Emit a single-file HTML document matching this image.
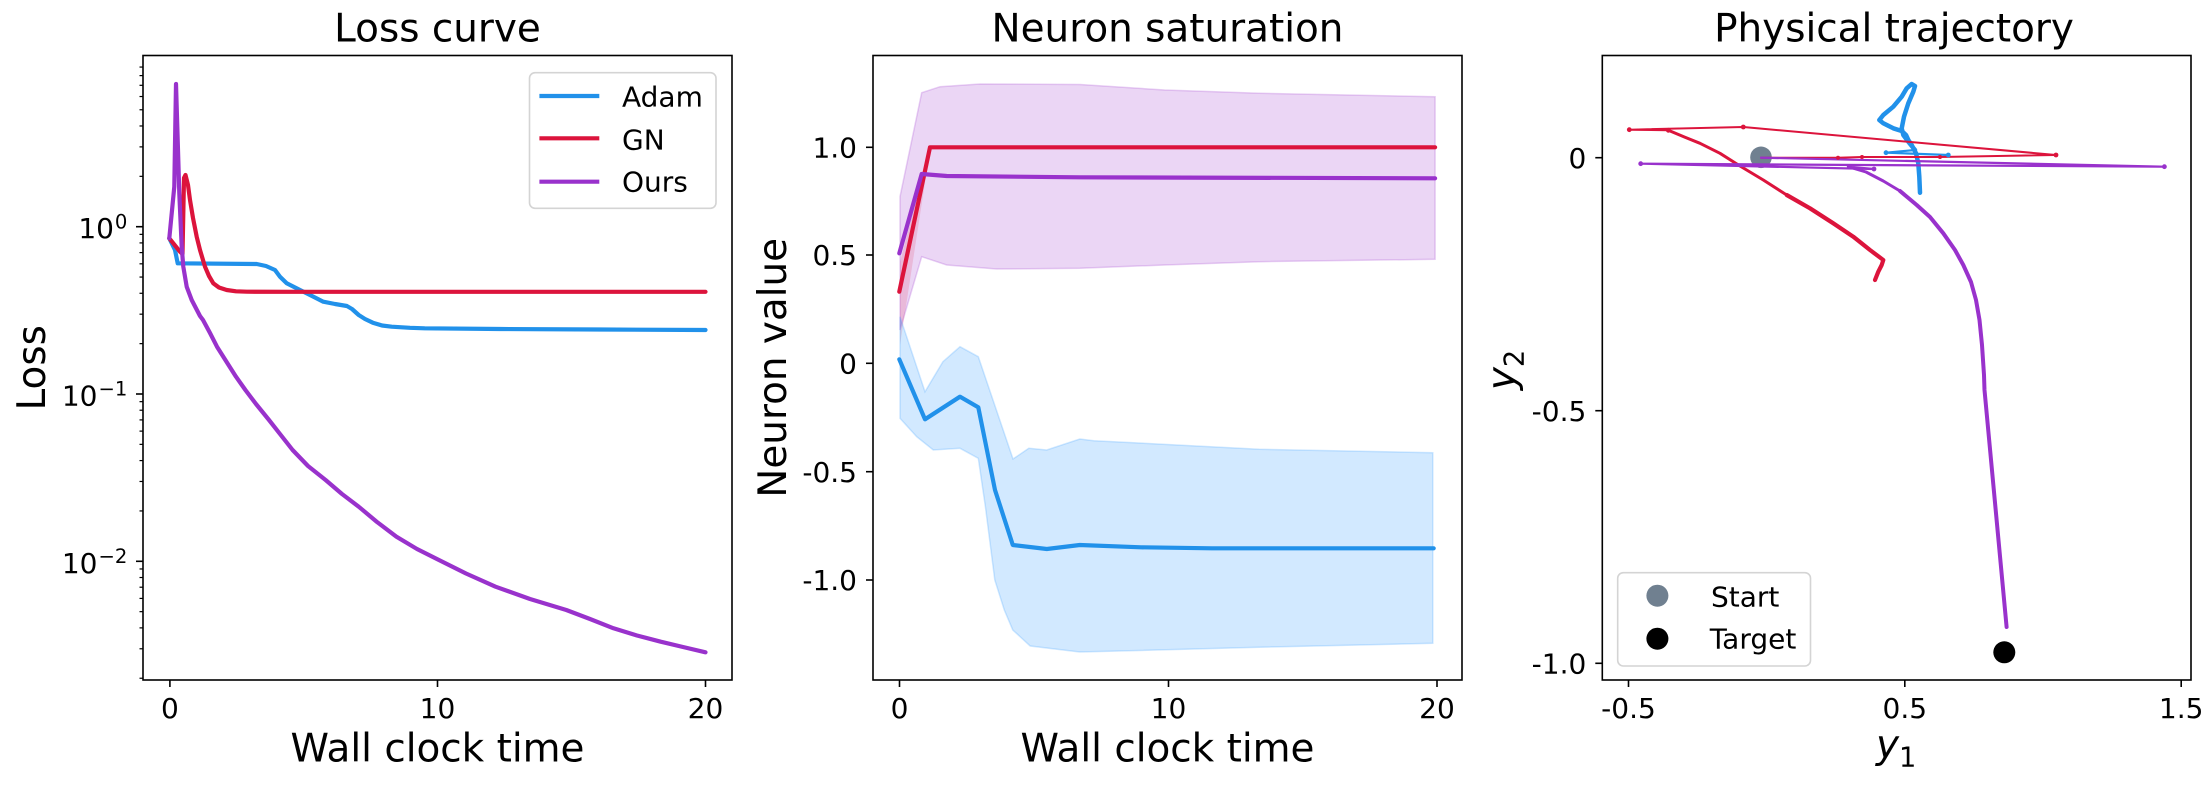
<!DOCTYPE html>
<html><head><meta charset="utf-8">
<style>
html,body{margin:0;padding:0;background:#fff;}
svg{display:block;}
text{font-family:"DejaVu Sans","Liberation Sans",sans-serif;fill:#000;}
</style></head>
<body>
<svg width="2212" height="786" viewBox="0 0 2212 786" xmlns="http://www.w3.org/2000/svg">
<rect width="2212" height="786" fill="#fff"/>

<!-- ================= LEFT PANEL ================= -->
<text x="437.5" y="41.7" font-size="38.9" text-anchor="middle">Loss curve</text>
<g fill="none" stroke-linejoin="round" stroke-linecap="round" stroke-width="4.2">
  <path stroke="#2191EA" d="M169.3,238.3 L175,250 L177.7,263.3 L256.7,264 L266,266 L275,270 L280,276.7 L286.7,283.3 L300,290 L312,296 L323.3,301.7 L335,304 L346.9,306 L352,309 L358.7,315 L365,319 L372.8,322.7 L382,325.5 L391.7,326.7 L410,327.8 L424.7,328.3 L500,329 L600,329.5 L705.5,330"/>
  <path stroke="#DC143C" d="M169.3,238.3 L180,251.7 L182.5,254 L184,178 L185.5,175 L188,185 L190,200 L193,218 L196.7,236.7 L200,250 L205,266.7 L209,276 L213.3,283.3 L219,287.5 L226.7,290 L236,291.3 L246.7,291.7 L300,291.8 L705.5,291.8"/>
  <path stroke="#9932CC" d="M169.3,238.3 L174.3,186.7 L176,84 L179.3,193.3 L181.7,246.7 L183.3,266.7 L186.7,286.7 L191.7,300 L200,316 L203,320 L210,333 L217,346.7 L226,361 L236,376.7 L245.4,390 L256,404 L269,420 L280,434 L292.6,450 L308,466 L325.6,480 L342,494 L358.7,506.7 L377,522 L396.4,536.7 L417,549 L438.9,560 L466,573.5 L495.5,586.7 L530,599 L566.3,610 L590,619 L613.5,628.3 L637,635.5 L660.7,641.7 L683,647 L705.5,652.3"/>
</g>
<rect x="143" y="55.5" width="589" height="624.5" fill="none" stroke="#000" stroke-width="1.6"/>
<!-- x ticks -->
<g stroke="#000" stroke-width="1.6">
  <line x1="169.9" y1="680" x2="169.9" y2="687"/>
  <line x1="437.5" y1="680" x2="437.5" y2="687"/>
  <line x1="705.5" y1="680" x2="705.5" y2="687"/>
  <!-- y major -->
  <line x1="136" y1="226.7" x2="143" y2="226.7"/>
  <line x1="136" y1="394" x2="143" y2="394"/>
  <line x1="136" y1="561.3" x2="143" y2="561.3"/>
</g>
<g stroke="#000" stroke-width="1.2">
  <line x1="139.5" x2="143" y1="176.34" y2="176.34"/><line x1="139.5" x2="143" y1="146.88" y2="146.88"/><line x1="139.5" x2="143" y1="125.98" y2="125.98"/><line x1="139.5" x2="143" y1="109.76" y2="109.76"/><line x1="139.5" x2="143" y1="96.52" y2="96.52"/><line x1="139.5" x2="143" y1="85.31" y2="85.31"/><line x1="139.5" x2="143" y1="75.61" y2="75.61"/><line x1="139.5" x2="143" y1="67.06" y2="67.06"/>
  <line x1="139.5" x2="143" y1="343.64" y2="343.64"/><line x1="139.5" x2="143" y1="314.18" y2="314.18"/><line x1="139.5" x2="143" y1="293.28" y2="293.28"/><line x1="139.5" x2="143" y1="277.06" y2="277.06"/><line x1="139.5" x2="143" y1="263.82" y2="263.82"/><line x1="139.5" x2="143" y1="252.61" y2="252.61"/><line x1="139.5" x2="143" y1="242.91" y2="242.91"/><line x1="139.5" x2="143" y1="234.36" y2="234.36"/>
  <line x1="139.5" x2="143" y1="510.94" y2="510.94"/><line x1="139.5" x2="143" y1="481.48" y2="481.48"/><line x1="139.5" x2="143" y1="460.58" y2="460.58"/><line x1="139.5" x2="143" y1="444.36" y2="444.36"/><line x1="139.5" x2="143" y1="431.12" y2="431.12"/><line x1="139.5" x2="143" y1="419.91" y2="419.91"/><line x1="139.5" x2="143" y1="410.21" y2="410.21"/><line x1="139.5" x2="143" y1="401.66" y2="401.66"/>
  <line x1="139.5" x2="143" y1="678.24" y2="678.24"/><line x1="139.5" x2="143" y1="648.78" y2="648.78"/><line x1="139.5" x2="143" y1="627.88" y2="627.88"/><line x1="139.5" x2="143" y1="611.66" y2="611.66"/><line x1="139.5" x2="143" y1="598.42" y2="598.42"/><line x1="139.5" x2="143" y1="587.21" y2="587.21"/><line x1="139.5" x2="143" y1="577.51" y2="577.51"/><line x1="139.5" x2="143" y1="568.96" y2="568.96"/>
</g>
<g font-size="28" text-anchor="middle">
  <text x="169.9" y="718">0</text>
  <text x="437.5" y="718">10</text>
  <text x="705.5" y="718">20</text>
</g>
<!-- log labels -->
<text x="114" y="238.2" font-size="28" text-anchor="end">10</text>
<text x="127.4" y="228.4" font-size="19.6" text-anchor="end">0</text>
<text x="97.5" y="405.5" font-size="28" text-anchor="end">10</text>
<text x="127.4" y="395.7" font-size="19.6" text-anchor="end">−1</text>
<text x="97.5" y="572.8" font-size="28" text-anchor="end">10</text>
<text x="127.4" y="563" font-size="19.6" text-anchor="end">−2</text>
<text transform="translate(44.8,367.8) rotate(-90)" font-size="38.9" text-anchor="middle">Loss</text>
<text x="437.5" y="761.7" font-size="38.9" text-anchor="middle">Wall clock time</text>
<!-- legend -->
<rect x="529.5" y="72.7" width="186.5" height="135.6" rx="5.6" fill="#fff" fill-opacity="0.85" stroke="#d4d4d4" stroke-width="1.6"/>
<g stroke-width="4.2">
  <line x1="539.4" y1="96" x2="599.3" y2="96" stroke="#2191EA"/>
  <line x1="539.4" y1="138.3" x2="599.3" y2="138.3" stroke="#DC143C"/>
  <line x1="539.4" y1="181.7" x2="599.3" y2="181.7" stroke="#9932CC"/>
</g>
<g font-size="28">
  <text x="622" y="106.7">Adam</text>
  <text x="622" y="149.3">GN</text>
  <text x="622" y="191.7">Ours</text>
</g>

<!-- ================= MIDDLE PANEL ================= -->
<text x="1167.5" y="41.7" font-size="38.9" text-anchor="middle">Neuron saturation</text>
<path fill="#9932CC" fill-opacity="0.2" stroke="#9932CC" stroke-opacity="0.22" stroke-width="1.5" d="M900,196.7 L921.7,92.7 L940,86.7 L980,84 L1080,84.5 L1164.7,90 L1259.1,93.3 L1435.1,96.7 L1435.1,259.3 L1259.1,261.7 L1164.7,265 L1080,268.3 L996.7,269 L946.7,265 L921.7,256.7 L900,330 Z"/>
<path fill="#DC143C" fill-opacity="0.15" stroke="none" d="M900,262 L930,147.3 L930,150 L900,345 Z"/>
<path fill="#1E90FF" fill-opacity="0.2" stroke="#1E90FF" stroke-opacity="0.2" stroke-width="1.5" d="M900,316.7 L925,391.7 L942.9,361.7 L960,346.7 L978.3,356.7 L1013,459 L1028.8,448.3 L1046.7,450 L1079.8,439 L1093.9,440.7 L1259.1,449.3 L1432.8,452.7 L1432.8,643.3 L1259.1,647.3 L1079.8,652 L1030.2,646 L1012.8,630 L1004.3,610 L994.8,580 L985.4,506.7 L978.3,458.3 L960,448.3 L933.3,450 L916.7,436.7 L900,418.3 Z"/>
<g fill="none" stroke-linejoin="round" stroke-linecap="round" stroke-width="4.2">
  <path stroke="#2191EA" d="M899.3,359.3 L925,419.3 L960,396.7 L978.3,407.3 L995,490 L1012.8,545 L1046.8,549 L1079.8,545 L1141.1,547.3 L1211.9,548.3 L1433.7,548.3"/>
  <path stroke="#DC143C" d="M899.3,291.7 L930,147.3 L1435.1,147.3"/>
  <path stroke="#9932CC" d="M899.3,253.3 L921.7,174 L946.7,176 L1080,177.3 L1435.1,178.3"/>
</g>
<rect x="873" y="55.5" width="589" height="624.5" fill="none" stroke="#000" stroke-width="1.6"/>
<g stroke="#000" stroke-width="1.6">
  <line x1="899.5" y1="680" x2="899.5" y2="687"/>
  <line x1="1168.5" y1="680" x2="1168.5" y2="687"/>
  <line x1="1437" y1="680" x2="1437" y2="687"/>
  <line x1="866" y1="147.3" x2="873" y2="147.3"/>
  <line x1="866" y1="255" x2="873" y2="255"/>
  <line x1="866" y1="363.3" x2="873" y2="363.3"/>
  <line x1="866" y1="471.7" x2="873" y2="471.7"/>
  <line x1="866" y1="580" x2="873" y2="580"/>
</g>
<g font-size="28" text-anchor="middle">
  <text x="899.5" y="718">0</text>
  <text x="1168.5" y="718">10</text>
  <text x="1437" y="718">20</text>
</g>
<g font-size="28" text-anchor="end">
  <text x="857" y="157.5">1.0</text>
  <text x="857" y="265.2">0.5</text>
  <text x="857" y="373.5">0</text>
  <text x="857" y="481.9">-0.5</text>
  <text x="857" y="590.2">-1.0</text>
</g>
<text transform="translate(786,367.8) rotate(-90)" font-size="38.9" text-anchor="middle">Neuron value</text>
<text x="1167.5" y="761.7" font-size="38.9" text-anchor="middle">Wall clock time</text>

<!-- ================= RIGHT PANEL ================= -->
<text x="1894" y="41.7" font-size="38.9" text-anchor="middle">Physical trajectory</text>
<circle cx="1761" cy="157.3" r="10.8" fill="#708090"/>
<circle cx="2004.3" cy="652.3" r="11" fill="#000"/>
<g fill="none" stroke-linejoin="round" stroke-linecap="round">
  <!-- blue -->
  <path stroke="#2191EA" stroke-width="2.2" d="M1886,152.7 L1948.3,155 M1886,152.7 L1915,150"/>
  <path stroke="#2191EA" stroke-width="4.5" d="M1920,192.7 L1919.3,176.7 L1918.3,163.3 L1916,153.3 L1911.7,145 L1908.3,140 L1906,135 L1901.7,131 L1893.3,128.3 L1883.3,123.3 L1879.3,120 L1883.3,115 L1893.3,106.7 L1901.7,96.7 L1906.7,88.3 L1911.7,84 L1915,86 L1913.3,91.7 L1908.3,103.3 L1904,116.7 L1901.7,128.3 L1903.3,135 L1908.3,141.7 L1915,150"/>
  <!-- red -->
  <path stroke="#DC143C" stroke-width="2" d="M1761,157.7 L1838,157.7 L1862,157 L1940,157 L2056,155 L1743.3,127 L1629.3,129.7 L1668.3,130.3"/>
  <path stroke="#DC143C" stroke-width="3" d="M1668.3,130.3 L1685,137.3 L1700,143.3 L1720,153.3 L1740,166 L1763.3,180 L1786.7,195"/>
  <path stroke="#DC143C" stroke-width="4.2" d="M1786.7,195 L1810,208.3 L1833.3,223.3 L1853.3,236.7 L1870,250 L1883.3,260 L1881.7,265 L1878.3,271.7 L1875,280"/>
  <!-- purple -->
  <path stroke="#9932CC" stroke-width="2.2" d="M1761,157.7 L2164.4,166.7 L1640.7,163.7 L1874,169 L1848.3,166.7"/>
  <path stroke="#9932CC" stroke-width="3" d="M1848.3,166.7 L1866,172 L1883.3,181 L1900,191"/>
  <path stroke="#9932CC" stroke-width="4" d="M1900,191 L1916.7,205 L1930,217 L1943.3,233.3 L1955,250 L1963.3,265 L1971,282 L1976,300 L1979.5,320 L1982,345 L1984,375 L1984.5,390 L2006.6,627"/>
</g>
<g fill="#DC143C">
  <circle cx="1629.3" cy="129.7" r="2.4"/><circle cx="1668.3" cy="130.3" r="2.4"/><circle cx="1743.3" cy="127" r="2.4"/><circle cx="2056" cy="155" r="2.4"/><circle cx="1940" cy="157" r="2"/><circle cx="1862" cy="157" r="2"/><circle cx="1838" cy="157.7" r="2"/>
</g>
<g fill="#9932CC">
  <circle cx="2164.4" cy="166.7" r="2.4"/><circle cx="1640.7" cy="163.7" r="2.4"/><circle cx="1874" cy="169" r="2.4"/>
</g>
<g fill="#2191EA">
  <circle cx="1886" cy="152.7" r="2.4"/><circle cx="1948.3" cy="155" r="2.4"/>
</g>
<rect x="1602.3" y="55.5" width="588.7" height="624.5" fill="none" stroke="#000" stroke-width="1.6"/>
<g stroke="#000" stroke-width="1.6">
  <line x1="1628.5" y1="680" x2="1628.5" y2="687"/>
  <line x1="1904.8" y1="680" x2="1904.8" y2="687"/>
  <line x1="2181.2" y1="680" x2="2181.2" y2="687"/>
  <line x1="1595.3" y1="157.7" x2="1602.3" y2="157.7"/>
  <line x1="1595.3" y1="410.7" x2="1602.3" y2="410.7"/>
  <line x1="1595.3" y1="663.3" x2="1602.3" y2="663.3"/>
</g>
<g font-size="28" text-anchor="middle">
  <text x="1628.5" y="718">-0.5</text>
  <text x="1904.8" y="718">0.5</text>
  <text x="2181.2" y="718">1.5</text>
</g>
<g font-size="28" text-anchor="end">
  <text x="1586.3" y="167.9">0</text>
  <text x="1586.3" y="420.9">-0.5</text>
  <text x="1586.3" y="673.5">-1.0</text>
</g>
<text transform="translate(1515,370) rotate(-90)" font-size="38.9" text-anchor="middle"><tspan font-style="italic">y</tspan><tspan font-size="27.2" dy="8.7">2</tspan></text>
<text x="1876" y="758" font-size="38.9"><tspan font-style="italic">y</tspan><tspan font-size="27.2" dy="8.7">1</tspan></text>
<!-- legend -->
<rect x="1617.7" y="572.7" width="192.8" height="93.3" rx="5.6" fill="#fff" fill-opacity="0.85" stroke="#d4d4d4" stroke-width="1.6"/>
<circle cx="1657.4" cy="595.7" r="11" fill="#708090"/>
<circle cx="1657.4" cy="638.7" r="11" fill="#000"/>
<g font-size="28">
  <text x="1711" y="606.7">Start</text>
  <text x="1709.7" y="648.3">Target</text>
</g>
</svg>
</body></html>
